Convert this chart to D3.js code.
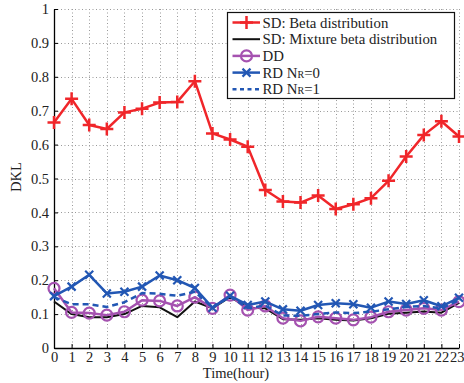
<!DOCTYPE html>
<html>
<head>
<meta charset="utf-8">
<script src="https://cdn.jsdelivr.net/npm/d3@7"></script>
<style>
  html, body { margin: 0; padding: 0; background: #fff; }
  svg { display: block; }
  svg text { font-family: "Liberation Serif", "Times New Roman", serif; }
</style>
</head>
<body>
<svg id="chart" width="464" height="383"></svg>
<script>
// Hours of the day
const hours = d3.range(0, 24);
const xTickLabels = hours.map(String);
const yTicks = [0, 0.1, 0.2, 0.3, 0.4, 0.5, 0.6, 0.7, 0.8, 0.9, 1];
const yTickLabels = ["0", "0.1", "0.2", "0.3", "0.4", "0.5", "0.6", "0.7", "0.8", "0.9", "1"];

// DKL per hour for each method
const sdBeta = [0.665, 0.735, 0.658, 0.646, 0.695, 0.706, 0.724, 0.726, 0.787, 0.633, 0.615, 0.594,
                0.466, 0.432, 0.429, 0.450, 0.410, 0.424, 0.442, 0.493, 0.565, 0.628, 0.669, 0.624];
const sdMixture = [0.137, 0.100, 0.091, 0.091, 0.100, 0.124, 0.120, 0.091, 0.137, 0.117, 0.151, 0.119,
                   0.117, 0.085, 0.083, 0.088, 0.083, 0.081, 0.088, 0.101, 0.104, 0.108, 0.104, 0.133];
const dd = [0.176, 0.105, 0.103, 0.097, 0.107, 0.141, 0.139, 0.124, 0.150, 0.117, 0.156, 0.112,
            0.124, 0.088, 0.080, 0.092, 0.088, 0.083, 0.091, 0.107, 0.112, 0.117, 0.112, 0.137];
const rd0 = [0.153, 0.181, 0.216, 0.161, 0.166, 0.181, 0.214, 0.200, 0.177, 0.119, 0.154, 0.127,
             0.137, 0.114, 0.110, 0.127, 0.132, 0.129, 0.119, 0.137, 0.130, 0.141, 0.123, 0.148];
const rd1 = [0.150, 0.129, 0.129, 0.121, 0.135, 0.162, 0.160, 0.154, 0.166, 0.119, 0.152, 0.118,
             0.125, 0.096, 0.095, 0.100, 0.105, 0.103, 0.107, 0.114, 0.121, 0.124, 0.117, 0.141];

const FONT = '"Liberation Serif", "Times New Roman", serif';
const svg = d3.select("#chart");
const plotLeft = 54, plotRight = 459, plotTop = 9, plotBottom = 348;

const x = d3.scaleLinear().domain([0, 23]).range([plotLeft, plotRight]);
const y = d3.scaleLinear().domain([0, 1]).range([plotBottom, plotTop]);

// Dotted grid
const grid = svg.append("g").attr("stroke", "#9a9a9a").attr("stroke-width", 1)
  .attr("stroke-dasharray", "1,2.5");
grid.selectAll(".gx").data(hours.filter(h => h > 0)).join("line")
  .attr("x1", d => Math.round(x(d)) + 0.5).attr("x2", d => Math.round(x(d)) + 0.5)
  .attr("y1", plotTop).attr("y2", plotBottom);
grid.selectAll(".gy").data(yTicks.filter(v => v > 0)).join("line")
  .attr("x1", plotLeft).attr("x2", plotRight)
  .attr("y1", d => Math.round(y(d)) + 0.5).attr("y2", d => Math.round(y(d)) + 0.5);

// Axes (left and bottom only, inward ticks)
const xAxis = d3.axisBottom(x).tickValues(hours).tickFormat((d, i) => xTickLabels[i])
  .tickSizeInner(-4).tickSizeOuter(0).tickPadding(4);
const yAxis = d3.axisLeft(y).tickValues(yTicks).tickFormat((d, i) => yTickLabels[i])
  .tickSizeInner(-4).tickSizeOuter(0).tickPadding(5);

const gx = svg.append("g").attr("transform", `translate(0,${plotBottom})`).call(xAxis);
const gy = svg.append("g").attr("transform", `translate(${plotLeft},0)`).call(yAxis);
[gx, gy].forEach(g => {
  g.attr("font-family", FONT).attr("font-size", 14.5);
  g.select(".domain").attr("stroke", "#000").attr("stroke-width", 1.3);
  g.selectAll(".tick line").attr("stroke", "#000");
  g.selectAll("text").attr("fill", "#222");
});
// keep the last hour label inside the page edge
gx.selectAll(".tick text").filter(d => d === 23).attr("text-anchor", "end").attr("dx", 5);

// Axis titles
svg.append("text").attr("x", 236).attr("y", 378).attr("text-anchor", "middle")
  .attr("font-family", FONT).attr("font-size", 14.5).attr("fill", "#222").text("Time(hour)");
svg.append("text").attr("transform", "translate(21,177) rotate(-90)")
  .attr("text-anchor", "middle").attr("font-family", FONT).attr("font-size", 14.5)
  .attr("fill", "#222").text("DKL");

const line = d3.line().x((d, i) => x(hours[i])).y(d => y(d));

const series = [
  { name: "SD: Beta distribution", values: sdBeta, color: "#f0262a", width: 2.5, dash: null, marker: "plus" },
  { name: "SD: Mixture beta distribution", values: sdMixture, color: "#111", width: 2, dash: null, marker: null },
  { name: "DD", values: dd, color: "#a552b0", width: 2.5, dash: null, marker: "circle" },
  { name: "RD N|R|=0", values: rd0, color: "#2257b4", width: 2.5, dash: null, marker: "cross" },
  { name: "RD N|R|=1", values: rd1, color: "#2257b4", width: 2.5, dash: "6,4", marker: null }
];

function drawMarker(g, kind, cx, cy, color) {
  if (kind === "plus") {
    const s = 6.5;
    g.append("path").attr("d", `M${cx - s},${cy}H${cx + s}M${cx},${cy - s}V${cy + s}`)
      .attr("stroke", color).attr("stroke-width", 2.5).attr("fill", "none");
  } else if (kind === "cross") {
    const s = 4;
    g.append("path").attr("d", `M${cx - s},${cy - s}L${cx + s},${cy + s}M${cx - s},${cy + s}L${cx + s},${cy - s}`)
      .attr("stroke", color).attr("stroke-width", 2.2).attr("fill", "none");
  } else if (kind === "circle") {
    g.append("circle").attr("cx", cx).attr("cy", cy).attr("r", 5.5)
      .attr("stroke", color).attr("stroke-width", 2.2).attr("fill", "none");
  }
}

series.forEach(s => {
  const g = svg.append("g");
  g.append("path").datum(s.values).attr("d", line)
    .attr("fill", "none").attr("stroke", s.color).attr("stroke-width", s.width)
    .attr("stroke-linejoin", "round").attr("stroke-dasharray", s.dash);
  if (s.marker) s.values.forEach((v, i) => drawMarker(g, s.marker, x(hours[i]), y(v), s.color));
});

// Legend
const lg = svg.append("g");
lg.append("rect").attr("x", 227.5).attr("y", 12.5).attr("width", 227).attr("height", 86)
  .attr("fill", "#fff").attr("stroke", "#111").attr("stroke-width", 1.2);
const rowY = [22.5, 39.2, 55.9, 72.6, 89.3];
series.forEach((s, i) => {
  const yy = rowY[i];
  lg.append("line").attr("x1", 232.5).attr("x2", 260).attr("y1", yy).attr("y2", yy)
    .attr("stroke", s.color).attr("stroke-width", s.width).attr("stroke-dasharray", s.dash ? "4,3.5" : null);
  if (s.marker) drawMarker(lg, s.marker, 246.5, yy, s.color);
  const t = lg.append("text").attr("x", 262.5).attr("y", yy + 5)
    .attr("font-family", FONT).attr("font-size", 14.8).attr("fill", "#222");
  const parts = s.name.split("|");
  if (parts.length === 1) t.text(s.name);
  else {
    t.append("tspan").text(parts[0]);
    t.append("tspan").attr("font-size", 10).text(parts[1]);
    t.append("tspan").text(parts[2]);
  }
});
</script>
</body>
</html>
